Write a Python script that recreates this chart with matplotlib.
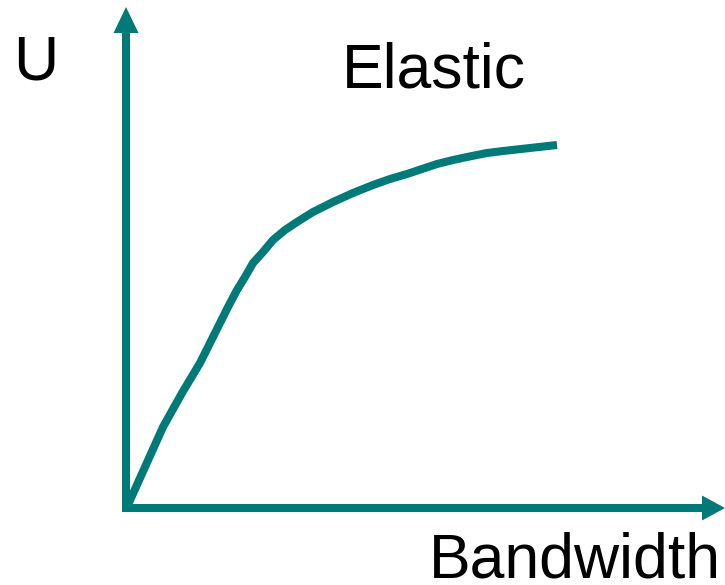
import numpy as np
import matplotlib.pyplot as plt

# Utility curve for an elastic application (pixel units)
bandwidth = [127, 145, 163, 182, 200, 210, 220, 228, 237, 245, 253, 263, 273, 285,
             297, 313, 333, 353, 373, 390, 407, 437, 453, 467, 487, 503, 530, 557]
utility = [507, 467, 427, 393, 363, 343, 323, 307, 290, 277, 263, 252, 240, 230,
           222, 212, 202, 193, 185, 179, 174, 164, 160, 157, 153, 151, 148, 145]

teal = '#007a78'

fig = plt.figure(figsize=(7.25, 5.85), dpi=100)
ax = fig.add_axes([0, 0, 1, 1])
ax.set_xlim(0, 725)
ax.set_ylim(585, 0)
ax.axis('off')

# axes drawn as arrows
ax.arrow(126, 512, 0, -505, width=8, head_width=25, head_length=26,
         length_includes_head=True, color=teal, lw=0)
ax.arrow(122, 508, 603, 0, width=8, head_width=25, head_length=23,
         length_includes_head=True, color=teal, lw=0)

ax.plot(bandwidth, utility, color=teal, lw=5.8, solid_capstyle='butt',
        solid_joinstyle='round')

font = 'Liberation Sans'
ax.text(13, 80, 'U', fontsize=45, family=font, va='baseline', ha='left')
ax.text(342, 88, 'Elastic', fontsize=45, family=font, va='baseline', ha='left')
ax.text(429, 578, 'Bandwidth', fontsize=45, family=font, va='baseline', ha='left')

fig.savefig('out.png', dpi=100)
